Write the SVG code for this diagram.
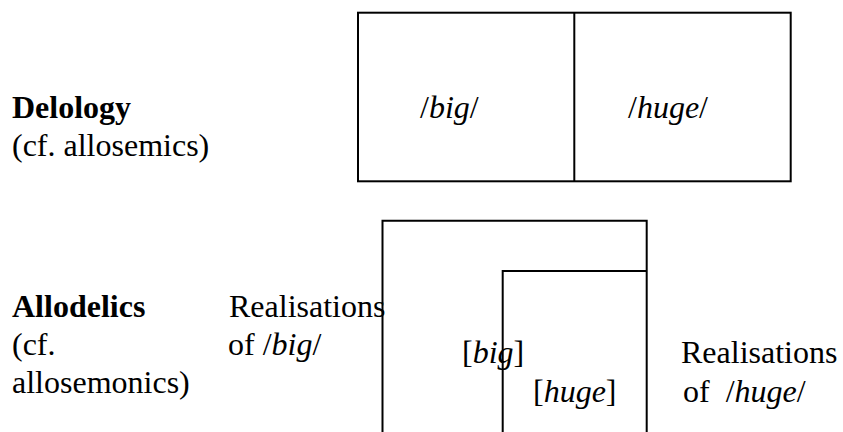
<svg xmlns="http://www.w3.org/2000/svg" width="843" height="432" viewBox="0 0 843 432">
<style>
text{font-family:"Liberation Serif","Times New Roman",serif;font-size:32px;fill:#000}
.b{font-weight:bold}
.i{font-style:italic}
.ln{fill:none;stroke:#000;stroke-width:2}
</style>
<rect width="843" height="432" fill="#fff"/>
<g id="label-delology">
<text x="12" y="118" class="b">Delology</text>
<text x="12" y="156">(cf. allosemics)</text>
</g>
<g id="box-delology">
<rect class="ln" x="358" y="12.7" width="432.7" height="168.6"/>
<line class="ln" x1="574.3" y1="12.7" x2="574.3" y2="181.3"/>
<text x="420" y="118">/<tspan class="i">big</tspan>/</text>
<text x="628" y="118">/<tspan class="i">huge</tspan>/</text>
</g>
<g id="label-allodelics">
<text x="12" y="317" class="b">Allodelics</text>
<text x="12" y="355">(cf.</text>
<text x="12" y="393">allosemonics)</text>
</g>
<g id="label-realisations-big">
<text x="229" y="317">Realisations</text>
<text x="228" y="355">of /<tspan class="i">big</tspan>/</text>
</g>
<g id="box-big">
<path class="ln" d="M382.5,433 V220.7 H646.7 V433"/>
<text x="462" y="363">[<tspan class="i">big</tspan>]</text>
</g>
<g id="box-huge">
<path class="ln" d="M502.7,433 V271 H646.7"/>
<text x="533" y="402">[<tspan class="i">huge</tspan>]</text>
</g>
<g id="label-realisations-huge">
<text x="681" y="363">Realisations</text>
<text x="683" y="402">of <tspan dx="8">/</tspan><tspan class="i">huge</tspan>/</text>
</g>
</svg>
